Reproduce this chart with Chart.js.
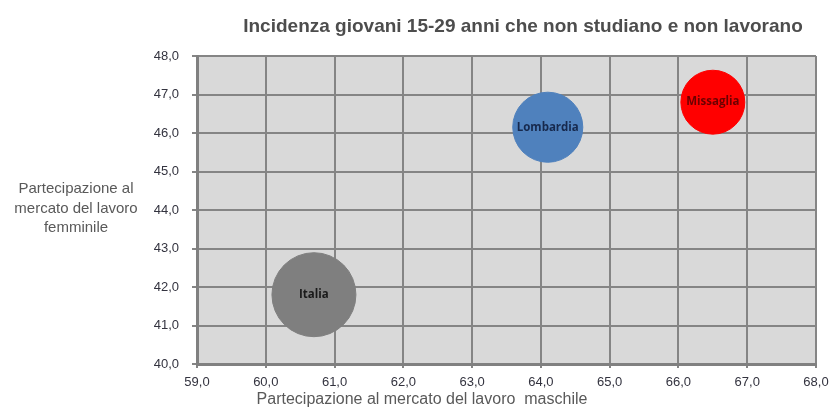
<!DOCTYPE html>
<html>
<head>
<meta charset="utf-8">
<script src="https://cdn.jsdelivr.net/npm/chart.js@4.4.1/dist/chart.umd.min.js"></script>
<style>
  html, body { margin: 0; padding: 0; background: #ffffff; }
  #wrap { width: 829px; height: 412px; position: relative; }
</style>
</head>
<body>
<div id="wrap"><canvas id="c" width="829" height="412"></canvas></div>
<script>
// ---- data ----
const territories = ["Italia", "Lombardia", "Missaglia"];
const maleParticipation = [60.7, 64.1, 66.5];     // x
const femaleParticipation = [41.8, 46.15, 46.8];  // y
const neetIncidence = [24.0, 16.7, 13.9];         // bubble size
const xTicks = [59, 60, 61, 62, 63, 64, 65, 66, 67, 68];
const yTicks = [40, 41, 42, 43, 44, 45, 46, 47, 48];

const chartTitle = "Incidenza giovani 15-29 anni che non studiano e non lavorano";
const xTitle = "Partecipazione al mercato del lavoro  maschile";
const yTitle = ["Partecipazione al", "mercato del lavoro", "femminile"];

// ---- styles ----
const fills = ["#7f7f7f", "#4f81bd", "#ff0000"];
const labelColors = ["#1a1a1a", "#17294d", "#6b0000"];
const MAX_R = 42;
const maxV = Math.max(...neetIncidence);
const fmt = v => Number(v).toFixed(1).replace('.', ',');
const FONT = "'Liberation Sans', Arial, sans-serif";

const datasets = territories.map((name, i) => ({
  label: name,
  data: [{ x: maleParticipation[i], y: femaleParticipation[i], r: MAX_R * Math.sqrt(neetIncidence[i] / maxV) }],
  backgroundColor: fills[i],
  borderColor: fills[i],
  borderWidth: 1,
  hoverRadius: 0
}));

const decor = {
  id: 'decor',
  beforeDraw(chart) {
    const { ctx, chartArea: a } = chart;
    ctx.save();
    ctx.fillStyle = '#d9d9d9';
    ctx.fillRect(a.left, a.top, a.right - a.left, a.bottom - a.top);
    ctx.restore();
  },
  afterDraw(chart) {
    const { ctx } = chart;
    ctx.save();
    ctx.fillStyle = '#4d4d4d';
    ctx.font = "bold 19px " + FONT;
    ctx.textAlign = 'center';
    ctx.textBaseline = 'middle';
    ctx.fillText(chartTitle, 523, 27);
    ctx.font = "15px " + FONT;
    ctx.fillStyle = '#595959';
    yTitle.forEach((t, i) => ctx.fillText(t, 76, 189 + i * 19.5));
    ctx.font = "16px " + FONT;
    ctx.fillText(xTitle, 422, 400);
    ctx.restore();
  },
  afterDatasetsDraw(chart) {
    const { ctx } = chart;
    ctx.save();
    ctx.font = "bold 11.5px 'Open Sans', sans-serif";
    ctx.textAlign = 'center';
    ctx.textBaseline = 'middle';
    chart.data.datasets.forEach((ds, i) => {
      const el = chart.getDatasetMeta(i).data[0];
      ctx.fillStyle = labelColors[i];
      ctx.fillText(ds.label, el.x, el.y);
    });
    ctx.restore();
  }
};

new Chart(document.getElementById('c'), {
  type: 'bubble',
  data: { datasets },
  options: {
    responsive: false,
    animation: false,
    layout: { autoPadding: false, padding: { left: 0, right: 13, top: 56, bottom: 0 } },
    plugins: { legend: { display: false }, tooltip: { enabled: false }, title: { display: false } },
    scales: {
      x: {
        type: 'linear',
        min: xTicks[0], max: xTicks[xTicks.length - 1],
        afterBuildTicks: s => { s.ticks = xTicks.map(v => ({ value: v })); },
        afterFit: s => { s.height = 48; s.paddingLeft = 0; s.paddingRight = 0; },
        grid: { color: '#858585', lineWidth: 2, tickLength: 4, tickColor: '#858585' },
        border: { color: '#808080', width: 3 },
        ticks: { callback: v => fmt(v), color: '#33333f', font: { family: FONT, size: 13 }, padding: 7, maxRotation: 0 },
        title: { display: false }
      },
      y: {
        type: 'linear',
        min: yTicks[0], max: yTicks[yTicks.length - 1],
        afterBuildTicks: s => { s.ticks = yTicks.map(v => ({ value: v })); },
        afterFit: s => { s.width = 197; s.paddingTop = 0; s.paddingBottom = 0; },
        grid: { color: '#858585', lineWidth: 2, tickLength: 5, tickColor: '#858585' },
        border: { color: '#808080', width: 3 },
        ticks: { callback: v => fmt(v), color: '#33333f', font: { family: FONT, size: 13 }, padding: 13 }
      }
    }
  },
  plugins: [decor]
});
</script>
</body>
</html>
